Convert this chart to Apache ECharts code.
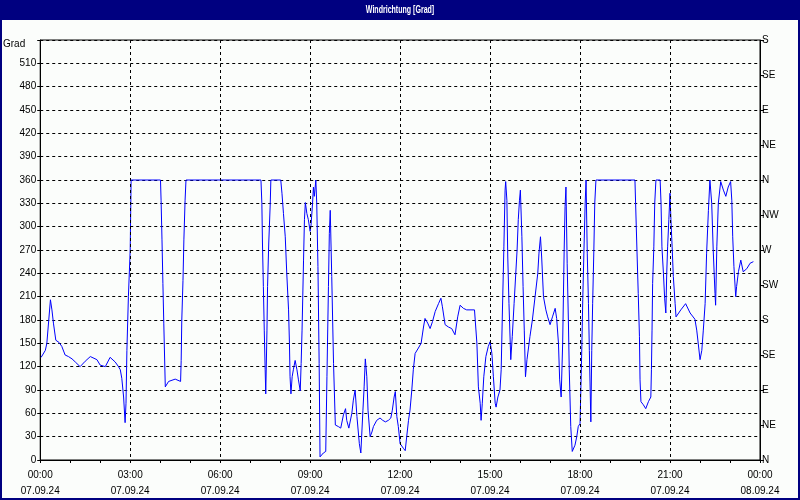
<!DOCTYPE html>
<html>
<head>
<meta charset="utf-8">
<script src="https://cdn.jsdelivr.net/npm/echarts@6/dist/echarts.min.js"></script>
<style>
html,body{margin:0;padding:0;background:#fbfdfb;}
#c{width:800px;height:500px;}
</style>
</head>
<body>
<div id="c"></div>
<script>
// time of day in hours (07.09.24 00:00 = 0)
var hours = [
0.03,0.17,0.22,0.34,0.39,0.44,0.52,0.63,0.72,0.83,0.94,1.06,1.17,1.33,1.5,1.67,1.89,2.0,2.17,2.33,2.5,2.61,2.67,2.72,2.78,2.83,2.86,2.89,2.94,3.0,3.02,3.03,
4.01,4.03,4.06,4.09,4.12,4.17,4.28,4.5,4.68,4.7,4.72,4.76,4.79,4.83,4.86,
7.36,7.39,7.41,7.44,7.47,7.5,7.52,7.56,7.58,7.62,7.67,7.69,
8.02,8.06,8.11,8.17,8.22,8.28,8.31,8.33,8.36,8.40,8.44,8.5,8.56,8.61,8.67,8.7,8.73,8.78,8.81,8.84,8.89,8.94,9.0,9.03,9.08,9.11,9.14,9.19,
9.22,9.26,9.3,9.33,9.44,9.52,9.56,9.61,9.64,9.67,9.72,9.78,9.84,9.94,10.02,10.11,10.18,10.22,10.29,10.33,10.39,10.44,10.5,10.56,10.64,10.69,10.76,10.8,10.84,10.89,10.93,
11.0,11.06,11.11,11.22,11.33,11.42,11.51,11.61,11.69,11.74,11.8,11.84,11.89,11.94,12.0,12.06,12.11,12.17,12.22,12.28,12.33,12.39,12.44,12.5,12.61,12.7,12.78,12.83,12.92,
13.0,13.08,13.17,13.28,13.36,13.41,13.5,13.61,13.72,13.83,13.92,14.0,14.11,14.22,14.33,14.48,14.56,14.61,14.67,14.7,14.74,14.79,14.86,14.94,
15.0,15.06,15.11,15.17,15.2,15.26,15.33,15.37,15.41,15.46,15.5,15.52,15.56,15.59,15.63,15.69,15.74,15.8,15.9,15.94,15.98,16.01,16.06,16.1,16.14,16.18,16.23,16.33,16.41,16.5,16.59,16.63,16.68,16.72,16.78,16.86,16.92,
17.0,17.08,17.17,17.22,17.28,17.32,17.37,17.42,17.47,17.5,17.53,17.57,17.61,17.64,17.69,17.74,17.83,17.89,17.94,
18.0,18.02,18.06,18.09,18.13,18.17,18.2,18.24,18.28,18.31,18.36,18.39,18.42,18.46,18.49,18.53,
19.83,19.89,19.94,19.98,20.0,20.03,20.11,20.19,20.28,20.36,20.38,20.4,20.42,20.46,20.49,20.53,20.67,20.7,20.73,20.78,20.82,20.86,20.89,20.92,20.96,
21.0,21.01,21.03,21.07,21.11,21.17,21.2,21.36,21.52,21.67,21.83,21.89,21.94,22.0,22.06,22.11,22.17,22.22,22.28,22.33,22.39,22.44,22.5,22.52,22.56,22.61,22.69,22.78,22.86,22.94,
23.02,23.06,23.09,23.13,23.19,23.22,23.28,23.36,23.44,23.56,23.67,23.78
];
// wind direction in degrees
var degrees = [
132,141,150,206,193,176,154,151,146,135,133,130,126,120,127,133,129,122,120,132,126,120,116,105,81,48,73,141,210,270,330,360,
360,334,283,227,176,94,101,104,101,128,180,231,283,334,360,
360,330,279,223,167,116,85,167,223,279,330,360,
360,343,317,287,240,193,150,107,85,107,116,128,116,103,89,124,167,257,309,331,317,309,294,302,330,351,339,360,
330,249,124,4,9,11,107,223,291,321,236,124,45,43,41,58,66,51,41,39,60,77,90,56,21,9,64,94,130,107,64,
30,36,43,51,54,51,49,51,54,64,81,88,56,43,21,19,15,12,30,51,64,90,116,137,144,150,171,182,176,
169,178,191,201,208,197,174,171,169,161,184,199,195,193,193,193,150,94,73,51,73,107,133,146,
152,137,107,73,68,81,90,116,189,274,347,358,334,261,201,129,159,201,270,309,334,347,287,223,167,107,129,159,180,210,240,266,287,261,210,193,184,
174,184,195,182,150,103,81,150,270,326,351,253,180,116,43,11,19,30,43,
47,81,146,206,270,330,360,266,201,141,49,141,201,270,330,360,
360,279,214,159,103,75,71,66,75,81,116,167,227,274,330,360,360,330,274,240,208,189,240,274,309,
343,330,309,274,236,201,184,193,201,189,181,167,150,129,141,167,201,266,321,360,330,270,214,199,274,330,358,347,339,351,
358,334,287,249,210,223,242,257,242,246,253,255
];
var xTickLabels = ['00:00\n07.09.24','03:00\n07.09.24','06:00\n07.09.24','09:00\n07.09.24','12:00\n07.09.24','15:00\n07.09.24','18:00\n07.09.24','21:00\n07.09.24','00:00\n08.09.24'];
var dirLabels = ['N','NE','E','SE','S','SW','W','NW','N','NE','E','SE','S'];

var FONT = '"Liberation Sans", sans-serif';
var chart = echarts.init(document.getElementById('c'), null, {renderer:'canvas'});
var data = hours.map(function(h,i){return [h, degrees[i]];});

chart.setOption({
  backgroundColor: '#fbfdfb',
  animation: false,
  graphic: [
    {type:'rect', shape:{x:0,y:0,width:800,height:20}, style:{fill:'#000080'}, z:-10, silent:true},
    {type:'rect', shape:{x:1,y:1,width:798,height:498}, style:{fill:'none', stroke:'#000080', lineWidth:2}, z:-10, silent:true},
    {type:'text', x:400, y:10, scaleX:0.64, z:10, silent:true,
      style:{text:'Windrichtung [Grad]', textAlign:'center', textVerticalAlign:'middle', fill:'#ffffff', font:'bold 11px "Liberation Sans", sans-serif'}}
  ],
  grid: {left:40, right:40, top:40, bottom:40, show:true, borderColor:'#000', borderWidth:1, backgroundColor:'transparent'},
  xAxis: {
    type:'value', min:0, max:24, interval:3, z:3,
    axisLine:{show:true, lineStyle:{color:'#000', width:1}},
    axisTick:{show:true, length:3, lineStyle:{color:'#000'}},
    minorTick:{show:true, splitNumber:3, length:3, lineStyle:{color:'#000'}},
    splitLine:{show:true, lineStyle:{color:'#000', type:[3,3], width:1}},
    axisLabel:{color:'#000', fontSize:10, fontFamily:FONT, lineHeight:16, margin:7,
      formatter:function(v){return xTickLabels[Math.round(v/3)];}}
  },
  yAxis: [
    {
      type:'value', min:0, max:540, interval:30, position:'left',
      name:'Grad', nameLocation:'end', nameGap:-4,
      nameTextStyle:{color:'#000', fontSize:10, fontFamily:FONT, align:'right', verticalAlign:'middle', padding:[0,15,0,0]},
      axisLine:{show:true, lineStyle:{color:'#000', width:1}},
      axisTick:{show:true, length:3, lineStyle:{color:'#000'}},
      splitLine:{show:true, lineStyle:{color:'#000', type:[3,3], width:1}},
      axisLabel:{color:'#000', fontSize:10, fontFamily:FONT, margin:4,
        formatter:function(v){return v===540 ? '' : String(v);}}
    },
    {
      type:'value', min:0, max:540, interval:45, position:'right',
      axisLine:{show:true, lineStyle:{color:'#000', width:1}},
      axisTick:{show:true, length:4, lineStyle:{color:'#000'}},
      splitLine:{show:false},
      axisLabel:{color:'#000', fontSize:10, fontFamily:FONT, margin:2,
        formatter:function(v){return dirLabels[Math.round(v/45)];}}
    }
  ],
  series: [{
    type:'line', data:data, yAxisIndex:0, showSymbol:false, symbol:'none',
    lineStyle:{color:'#0000ff', width:1}, z:2
  }]
});
</script>
</body>
</html>
